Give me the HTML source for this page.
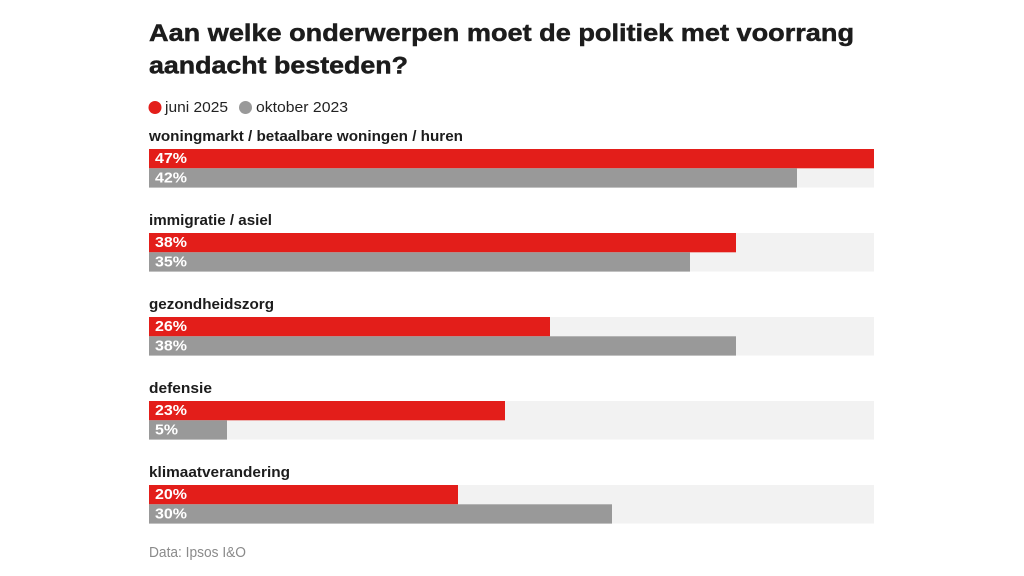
<!DOCTYPE html>
<html><head><meta charset="utf-8"><style>
html,body{margin:0;padding:0;background:#fff;}
svg{display:block;}
text{font-family:"Liberation Sans",Arial,sans-serif;}
</style></head><body>
<svg width="1024" height="576" viewBox="0 0 1024 576" xmlns="http://www.w3.org/2000/svg">
<rect width="1024" height="576" fill="#fff"/>
<text x="149" y="41" font-size="24" font-weight="bold" fill="#1c1c1c" stroke="#1c1c1c" stroke-width="0.5" textLength="705" lengthAdjust="spacingAndGlyphs">Aan welke onderwerpen moet de politiek met voorrang</text>
<text x="149" y="73.5" font-size="24" font-weight="bold" fill="#1c1c1c" stroke="#1c1c1c" stroke-width="0.5" textLength="259" lengthAdjust="spacingAndGlyphs">aandacht besteden?</text>
<circle cx="155" cy="107.5" r="6.5" fill="#e31e1a"/>
<text x="165" y="112" font-size="15" fill="#222" textLength="63" lengthAdjust="spacingAndGlyphs">juni 2025</text>
<circle cx="245.5" cy="107.5" r="6.5" fill="#999"/>
<text x="256" y="112" font-size="15" fill="#222" textLength="92" lengthAdjust="spacingAndGlyphs">oktober 2023</text>
<g font-weight="bold">
<text x="149" y="141" font-size="15" fill="#1c1c1c" textLength="314" lengthAdjust="spacingAndGlyphs">woningmarkt / betaalbare woningen / huren</text>
<rect x="149" y="149" width="725" height="38.6" fill="#f2f2f2"/>
<rect x="149" y="149" width="725" height="19.3" fill="#e31e1a"/>
<rect x="149" y="168.3" width="648" height="19.3" fill="#999"/>
<text x="155" y="163" font-size="15" fill="#fff" textLength="32" lengthAdjust="spacingAndGlyphs">47%</text>
<text x="155" y="182.5" font-size="15" fill="#fff" textLength="32" lengthAdjust="spacingAndGlyphs">42%</text>
<text x="149" y="225" font-size="15" fill="#1c1c1c" textLength="123" lengthAdjust="spacingAndGlyphs">immigratie / asiel</text>
<rect x="149" y="233" width="725" height="38.6" fill="#f2f2f2"/>
<rect x="149" y="233" width="587" height="19.3" fill="#e31e1a"/>
<rect x="149" y="252.3" width="541" height="19.3" fill="#999"/>
<text x="155" y="247" font-size="15" fill="#fff" textLength="32" lengthAdjust="spacingAndGlyphs">38%</text>
<text x="155" y="266.5" font-size="15" fill="#fff" textLength="32" lengthAdjust="spacingAndGlyphs">35%</text>
<text x="149" y="309" font-size="15" fill="#1c1c1c" textLength="125" lengthAdjust="spacingAndGlyphs">gezondheidszorg</text>
<rect x="149" y="317" width="725" height="38.6" fill="#f2f2f2"/>
<rect x="149" y="317" width="401" height="19.3" fill="#e31e1a"/>
<rect x="149" y="336.3" width="587" height="19.3" fill="#999"/>
<text x="155" y="331" font-size="15" fill="#fff" textLength="32" lengthAdjust="spacingAndGlyphs">26%</text>
<text x="155" y="350.5" font-size="15" fill="#fff" textLength="32" lengthAdjust="spacingAndGlyphs">38%</text>
<text x="149" y="393" font-size="15" fill="#1c1c1c" textLength="63" lengthAdjust="spacingAndGlyphs">defensie</text>
<rect x="149" y="401" width="725" height="38.6" fill="#f2f2f2"/>
<rect x="149" y="401" width="356" height="19.3" fill="#e31e1a"/>
<rect x="149" y="420.3" width="78" height="19.3" fill="#999"/>
<text x="155" y="415" font-size="15" fill="#fff" textLength="32" lengthAdjust="spacingAndGlyphs">23%</text>
<text x="155" y="434.5" font-size="15" fill="#fff" textLength="23" lengthAdjust="spacingAndGlyphs">5%</text>
<text x="149" y="477" font-size="15" fill="#1c1c1c" textLength="141" lengthAdjust="spacingAndGlyphs">klimaatverandering</text>
<rect x="149" y="485" width="725" height="38.6" fill="#f2f2f2"/>
<rect x="149" y="485" width="309" height="19.3" fill="#e31e1a"/>
<rect x="149" y="504.3" width="463" height="19.3" fill="#999"/>
<text x="155" y="499" font-size="15" fill="#fff" textLength="32" lengthAdjust="spacingAndGlyphs">20%</text>
<text x="155" y="518.5" font-size="15" fill="#fff" textLength="32" lengthAdjust="spacingAndGlyphs">30%</text>
</g>
<text x="149" y="557" font-size="15" fill="#8a8a8a" textLength="97" lengthAdjust="spacingAndGlyphs">Data: Ipsos I&amp;O</text>
</svg>
</body></html>
